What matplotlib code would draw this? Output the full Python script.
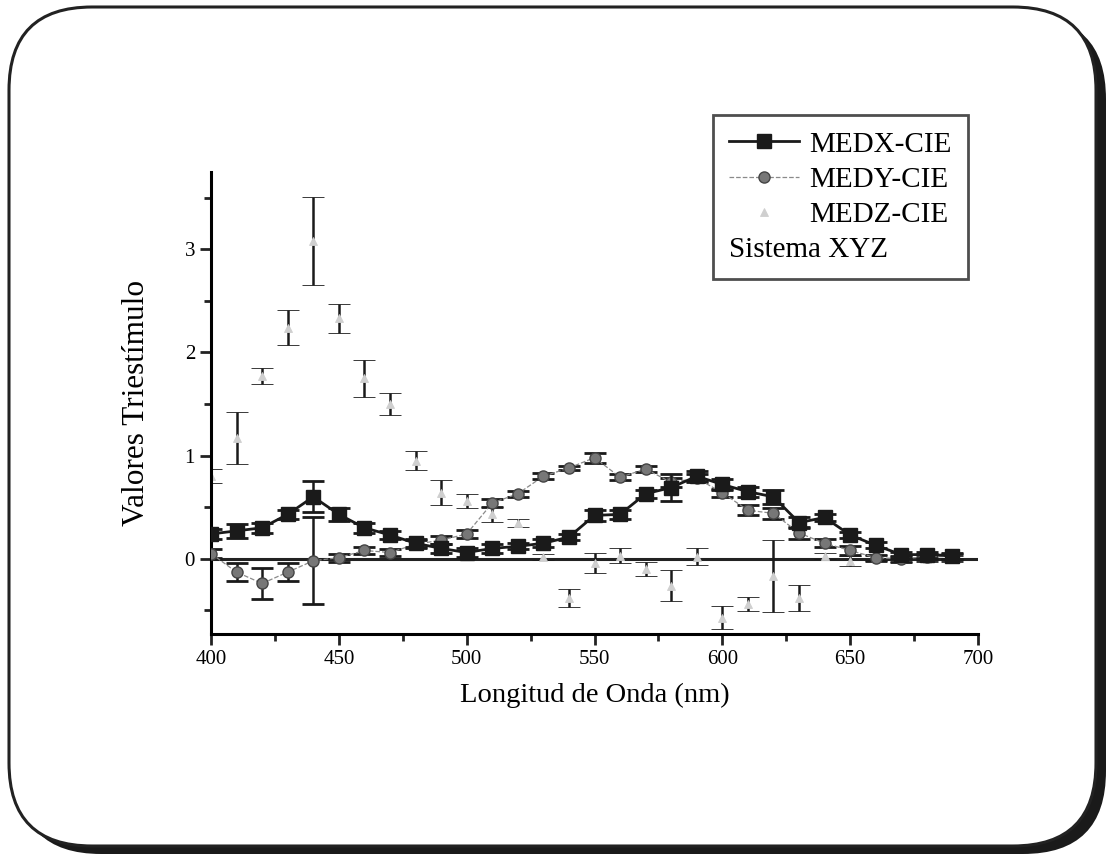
import numpy as np
import matplotlib.pyplot as plt
from matplotlib.patches import FancyBboxPatch
from matplotlib.lines import Line2D

# ---------------------------------------------------
# Data
# ---------------------------------------------------

wavelength = [400, 410, 420, 430, 440, 450, 460, 470, 480, 490,
              500, 510, 520, 530, 540, 550, 560, 570, 580, 590,
              600, 610, 620, 630, 640, 650, 660, 670, 680, 690]

medx = [0.24, 0.27, 0.30, 0.43, 0.60, 0.43, 0.30, 0.23, 0.15, 0.10,
        0.06, 0.10, 0.12, 0.15, 0.21, 0.42, 0.43, 0.63, 0.69, 0.80,
        0.72, 0.65, 0.60, 0.35, 0.40, 0.23, 0.13, 0.04, 0.04, 0.03]
medx_err = [0.05, 0.07, 0.05, 0.04, 0.15, 0.06, 0.05, 0.04, 0.04, 0.04,
            0.04, 0.04, 0.03, 0.04, 0.03, 0.05, 0.04, 0.04, 0.13, 0.05,
            0.05, 0.05, 0.07, 0.05, 0.03, 0.03, 0.03, 0.03, 0.03, 0.03]

medy = [0.05, -0.13, -0.24, -0.13, -0.02, 0.01, 0.08, 0.06, 0.14, 0.18,
        0.24, 0.54, 0.63, 0.80, 0.88, 0.98, 0.79, 0.87, 0.74, 0.78,
        0.64, 0.47, 0.44, 0.25, 0.15, 0.08, 0.01, 0.00, 0.02, 0.02]
medy_err = [0.04, 0.09, 0.15, 0.09, 0.42, 0.04, 0.03, 0.03, 0.04, 0.04,
            0.04, 0.04, 0.03, 0.03, 0.02, 0.05, 0.03, 0.03, 0.04, 0.04,
            0.04, 0.05, 0.05, 0.06, 0.04, 0.04, 0.03, 0.03, 0.03, 0.03]

medz = [0.80, 1.17, 1.77, 2.24, 3.08, 2.33, 1.75, 1.50, 0.95, 0.64,
        0.56, 0.43, 0.35, 0.02, -0.38, -0.04, 0.03, -0.10, -0.26, 0.02,
        -0.57, -0.44, -0.17, -0.38, 0.03, -0.02, 0.01, 0.00, 0.00, 0.00]
medz_err = [0.07, 0.25, 0.08, 0.17, 0.43, 0.14, 0.18, 0.11, 0.09, 0.12,
            0.07, 0.07, 0.04, 0.03, 0.09, 0.10, 0.07, 0.07, 0.15, 0.08,
            0.11, 0.07, 0.35, 0.13, 0.03, 0.05, 0.03, 0.03, 0.03, 0.03]

x_ticks = [400, 450, 500, 550, 600, 650, 700]
y_ticks = [0, 1, 2, 3]

# ---------------------------------------------------
# Styles
# ---------------------------------------------------

STYLE_X = dict(marker="s", linestyle="-", color="#1a1a1a", linewidth=2,
               markersize=10)
STYLE_Y = dict(marker="o", linestyle="--", color="#8a8a8a", linewidth=0.9,
               markersize=8, markerfacecolor="#777777",
               markeredgecolor="#444444")
STYLE_Z = dict(marker="^", linestyle="none", color="#cfcfcf",
               markersize=6, markeredgewidth=0.6)

ERR = dict(ecolor="#1a1a1a", elinewidth=1.8, capsize=8, capthick=2)

# ---------------------------------------------------
# Figure
# ---------------------------------------------------

plt.rcParams["font.family"] = ["Liberation Serif", "DejaVu Serif"]

fig = plt.figure(figsize=(11.07, 8.55), dpi=100)

# rounded frame with shadow (behind the axes)
W, H = 1107, 855
shadow = FancyBboxPatch(
    (18 / W, 1 / H), 1088 / W, 838 / H,
    boxstyle="round,pad=0,rounding_size=0.075",
    transform=fig.transFigure, facecolor="#1a1a1a", edgecolor="none",
    mutation_aspect=W / H, zorder=-3
)
frame = FancyBboxPatch(
    (9 / W, 9 / H), 1087 / W, 839 / H,
    boxstyle="round,pad=0,rounding_size=0.075",
    transform=fig.transFigure, facecolor="white", edgecolor="#222222",
    linewidth=2.2, mutation_aspect=W / H, zorder=-2
)
fig.patches.extend([shadow, frame])

ax = fig.add_axes([211 / W, 1 - 634 / H, 767 / W, 462 / H])
ax.set_facecolor("none")

ax.axhline(0, color="#222222", linewidth=2.2, zorder=1)

ax.errorbar(wavelength, medz, yerr=medz_err, zorder=2, **STYLE_Z, **ERR)
ax.errorbar(wavelength, medy, yerr=medy_err, zorder=3, **STYLE_Y, **ERR)
ax.errorbar(wavelength, medx, yerr=medx_err, zorder=4, **STYLE_X, **ERR)

ax.set_xlim(400, 700)
ax.set_ylim(-0.73, 3.75)

ax.set_xticks(x_ticks)
ax.set_xticks([425, 475, 525, 575, 625, 675], minor=True)
ax.set_yticks(y_ticks)
ax.set_yticks([-0.5, 0.5, 1.5, 2.5, 3.5], minor=True)

ax.spines["top"].set_visible(False)
ax.spines["right"].set_visible(False)
ax.spines["left"].set_linewidth(2.2)
ax.spines["bottom"].set_linewidth(2.2)

ax.tick_params(axis="both", which="major", direction="out",
               length=8, width=2, labelsize=15, color="#222222")
ax.tick_params(axis="both", which="minor", direction="out",
               length=5, width=2, color="#222222")

ax.set_xlabel("Longitud de Onda (nm)", fontsize=20.5, labelpad=10)
ax.set_ylabel("Valores Triestímulo", fontsize=22.5, labelpad=24)

# ---------------------------------------------------
# Legend (title moved below the entries)
# ---------------------------------------------------

legend_handles = [
    Line2D([], [], **STYLE_X),
    Line2D([], [], **STYLE_Y),
    Line2D([], [], **STYLE_Z),
]
legend_labels = ["MEDX-CIE", "MEDY-CIE", "MEDZ-CIE"]

leg = ax.legend(
    legend_handles, legend_labels,
    title="Sistema XYZ", alignment="left",
    loc="upper right", bbox_to_anchor=(0.987, 1.123),
    fontsize=21, title_fontsize=21,
    frameon=True, fancybox=False, edgecolor="#222222",
    handlelength=2.4, handletextpad=0.35, labelspacing=0.3,
    borderpad=0.55, borderaxespad=0
)
leg.get_frame().set_linewidth(2)

box = leg._legend_box
box._children = [box._children[1], box._children[0]]

fig.savefig("out.png", dpi=100)
